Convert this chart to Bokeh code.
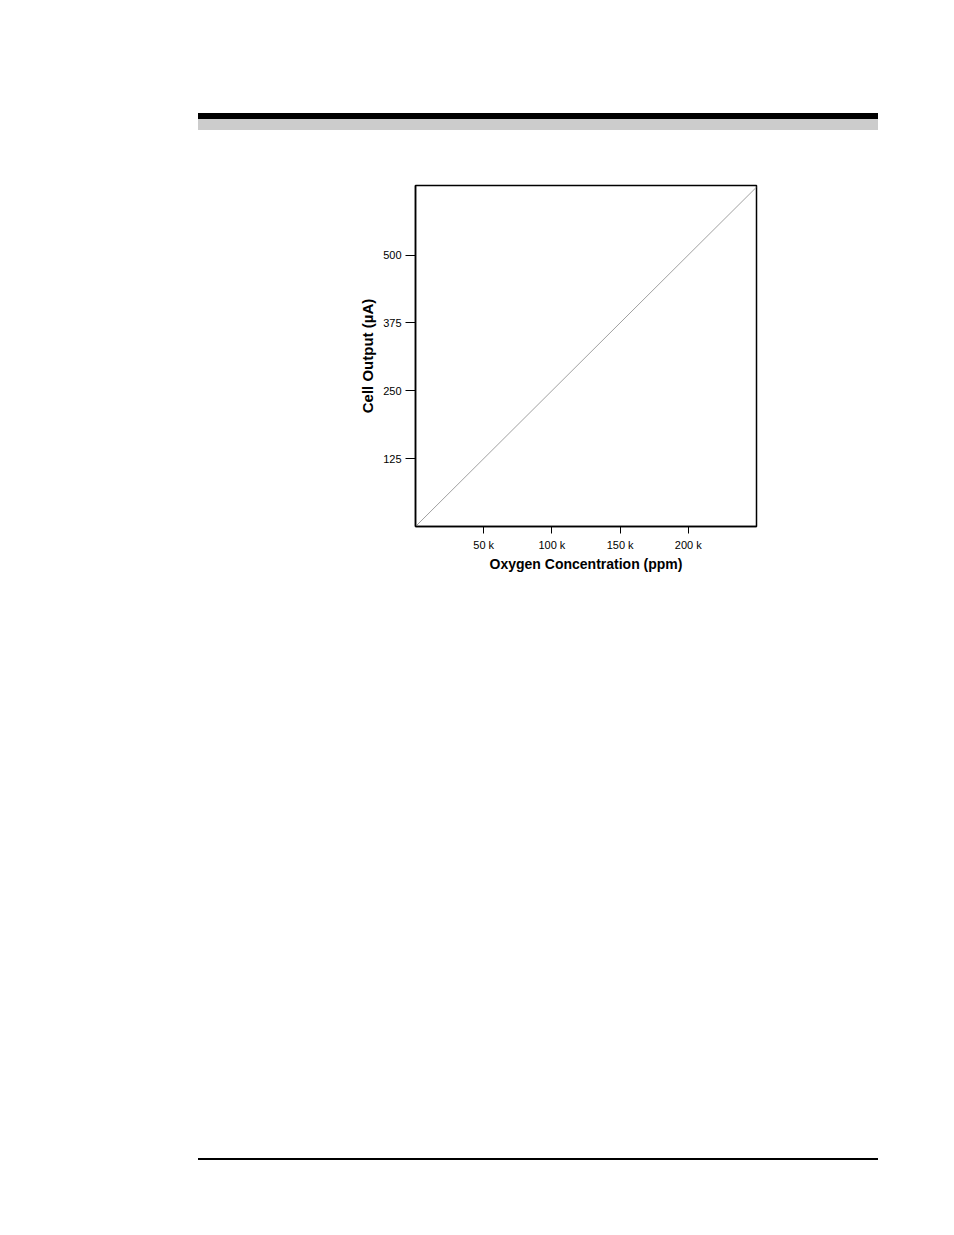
from bokeh.plotting import figure
from bokeh.layouts import column
from bokeh.models import Range1d, FixedTicker, Div
from bokeh.embed import file_html
from bokeh.resources import INLINE

# ---- data ----
oxygen_ppm = [0, 250000]
cell_output_ua = [0, 625]
x_ticks = [50000, 100000, 150000, 200000]
x_tick_labels = ["50 k", "100 k", "150 k", "200 k"]
y_ticks = [125, 250, 375, 500]
y_tick_labels = ["125", "250", "375", "500"]

FONT = "Liberation Sans"
W = 938

# header rule (page decoration, plain HTML blocks)
header = Div(width=W, height=140, margin=0, text=(
    '<div style="padding-top:113px;margin:0">'
    '<div style="margin-left:198px;width:680px;height:6px;background:#000000"></div>'
    '<div style="margin-left:198px;width:680px;height:11px;background:#cccccc"></div>'
    '</div>'))

# chart
p = figure(width=W, height=460, x_range=Range1d(0, 250000), y_range=Range1d(0, 628),
           toolbar_location=None, output_backend="svg",
           min_border_left=415, min_border_right=182, min_border_top=45, min_border_bottom=74)
p.grid.visible = False
p.outline_line_color = "black"
p.outline_line_width = 1.5
p.background_fill_color = "white"
p.border_fill_color = "white"

p.line(x=oxygen_ppm, y=cell_output_ua, color="#a0a0a0", line_width=1)

p.xaxis.ticker = FixedTicker(ticks=x_ticks)
p.xaxis.major_label_overrides = dict(zip(x_ticks, x_tick_labels))
p.yaxis.ticker = FixedTicker(ticks=y_ticks)
p.yaxis.major_label_overrides = dict(zip(y_ticks, y_tick_labels))

p.xaxis.axis_label = "Oxygen Concentration (ppm)"
p.yaxis.axis_label = "Cell Output (\u00b5A)"

for ax in (p.xaxis, p.yaxis):
    ax.axis_line_color = "black"
    ax.axis_line_width = 1.5
    ax.major_tick_line_color = "black"
    ax.major_tick_line_width = 1
    ax.major_tick_in = 0
    ax.minor_tick_line_color = None
    ax.major_label_text_font = FONT
    ax.major_label_text_font_size = "11px"
    ax.major_label_text_color = "black"
    ax.axis_label_text_font = FONT
    ax.axis_label_text_font_style = "bold"
    ax.axis_label_text_color = "black"

p.xaxis.axis_label_text_font_size = "14px"
p.yaxis.axis_label_text_font_size = "15px"
p.xaxis.major_tick_out = 7
p.yaxis.major_tick_out = 10
p.xaxis.major_label_standoff = 5
p.yaxis.major_label_standoff = 4
p.xaxis.axis_label_standoff = 2
p.yaxis.axis_label_standoff = 4

# footer rule (page decoration)
footer = Div(width=W, height=619, margin=0, text=(
    '<div style="padding-top:558px;margin:0">'
    '<div style="margin-left:198px;width:680px;height:2px;background:#000000"></div>'
    '</div>'))

layout = column(header, p, footer, spacing=0)

open("out.html", "w").write(file_html(layout, INLINE))
